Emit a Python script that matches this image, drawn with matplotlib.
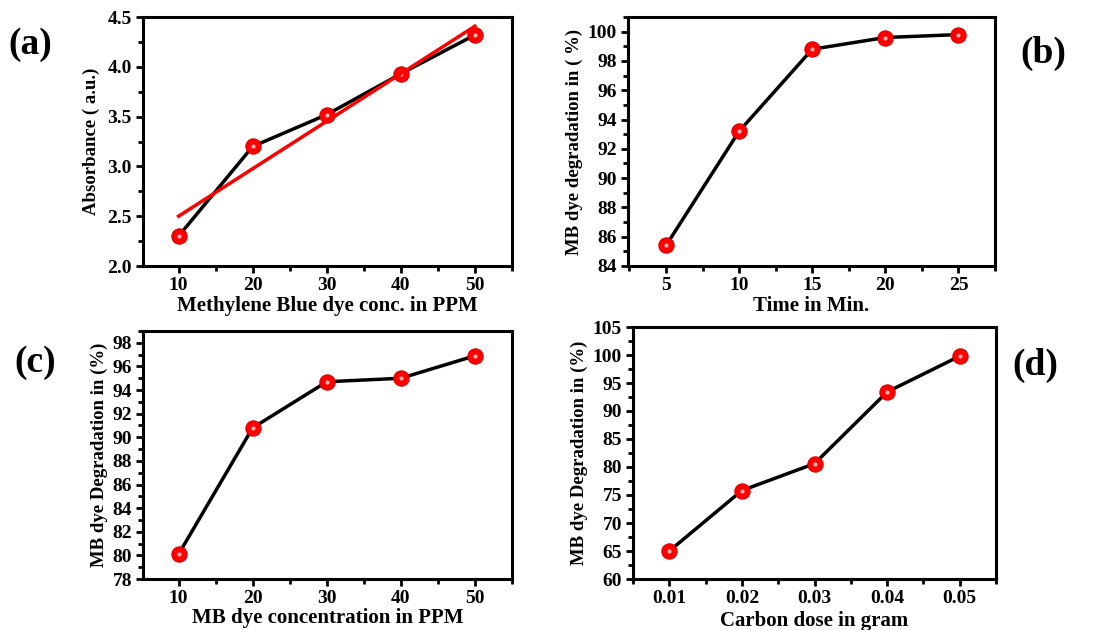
import matplotlib.pyplot as plt
import numpy as np
from matplotlib.ticker import MultipleLocator

plt.rcParams['font.family'] = ['Liberation Serif', 'DejaVu Serif']
plt.rcParams['font.weight'] = 'bold'

# Dados
conc_a = [10, 20, 30, 40, 50]
absorb_a = [2.30, 3.20, 3.52, 3.93, 4.32]

tempo_b = [5, 10, 15, 20, 25]
degrad_b = [85.4, 93.2, 98.8, 99.6, 99.8]

conc_c = [10, 20, 30, 40, 50]
degrad_c = [80.1, 90.8, 94.7, 95.0, 96.9]

dose_d = [0.01, 0.02, 0.03, 0.04, 0.05]
degrad_d = [65.0, 75.8, 80.6, 93.4, 99.8]

W, H = 1107, 630
fig = plt.figure(figsize=(W / 100, H / 100), dpi=100)


def eixo(left, right, top, bottom):
    return fig.add_axes([left / W, 1 - bottom / H, (right - left) / W, (bottom - top) / H])


def estilo(ax, xmaj, ymaj):
    ax.xaxis.set_major_locator(MultipleLocator(xmaj))
    ax.xaxis.set_minor_locator(MultipleLocator(xmaj / 2))
    ax.yaxis.set_major_locator(MultipleLocator(ymaj))
    ax.yaxis.set_minor_locator(MultipleLocator(ymaj / 2))
    ax.tick_params(which='both', direction='out', width=2, labelsize=14, pad=3)
    ax.tick_params(which='major', length=5)
    ax.tick_params(which='minor', length=3.5)
    for s in ax.spines.values():
        s.set_linewidth(2.2)
    for lab in ax.get_xticklabels() + ax.get_yticklabels():
        lab.set_fontweight('bold')


def pontos(ax, x, y):
    ax.plot(x, y, color='black', lw=2.5, zorder=2)
    ax.plot(x, y, 'o', ms=11, mfc='#ff0000', mec='#e00000', mew=0.8, zorder=3)
    ax.plot(x, y, 'o', ms=3, mfc='#ffb0b0', mec='none', zorder=4)


rot_x = dict(fontsize=15, fontweight='bold')
rot_y = dict(fontsize=13.5, fontweight='bold')

# (a)
ax = eixo(143, 512, 17, 266)
pontos(ax, conc_a, absorb_a)
coef = np.polyfit(conc_a, absorb_a, 1)
xs = np.array([conc_a[0], conc_a[-1]])
ax.plot(xs, coef[0] * xs + coef[1], color='#ff0000', lw=2.5, zorder=5)
ax.set_xlim(5.2, 55)
ax.set_ylim(2.0, 4.5)
estilo(ax, 10, 0.5)
ax.yaxis.set_major_formatter(plt.FormatStrFormatter('%.1f'))
ax.set_xlabel('Methylene Blue dye conc. in PPM', labelpad=1, **rot_x)
ax.set_ylabel('Absorbance ( a.u.)', labelpad=5, **rot_y)
fig.text(8 / W, 1 - 45 / H, '(a)', fontsize=27, fontweight='bold', va='center', ha='left')

# (b)
ax = eixo(628, 995, 17, 266)
pontos(ax, tempo_b, degrad_b)
ax.set_xlim(2.4, 27.5)
ax.set_ylim(84, 101)
estilo(ax, 5, 2)
ax.set_xlabel('Time in Min.', labelpad=1, **rot_x)
ax.set_ylabel('MB dye degradation in ( %)', labelpad=3, **rot_y)
fig.text(1020 / W, 1 - 53 / H, '(b)', fontsize=27, fontweight='bold', va='center', ha='left')

# (c)
ax = eixo(143, 512, 331, 579)
pontos(ax, conc_c, degrad_c)
ax.set_xlim(5.2, 55)
ax.set_ylim(78, 99)
estilo(ax, 10, 2)
ax.set_xlabel('MB dye concentration in PPM', labelpad=1, **rot_x)
ax.set_ylabel('MB dye Degradation in (%)', labelpad=3, **rot_y)
fig.text(14 / W, 1 - 362 / H, '(c)', fontsize=27, fontweight='bold', va='center', ha='left')

# (d)
ax = eixo(633, 996, 327, 579)
pontos(ax, dose_d, degrad_d)
ax.set_xlim(0.005, 0.055)
ax.set_ylim(60, 105)
estilo(ax, 0.01, 5)
ax.xaxis.set_major_formatter(plt.FormatStrFormatter('%.2f'))
ax.set_xlabel('Carbon dose in gram', labelpad=3, **rot_x)
ax.set_ylabel('MB dye Degradation in (%)', labelpad=3, **rot_y)
fig.text(1012 / W, 1 - 365 / H, '(d)', fontsize=27, fontweight='bold', va='center', ha='left')

fig.savefig('out.png', dpi=100)
